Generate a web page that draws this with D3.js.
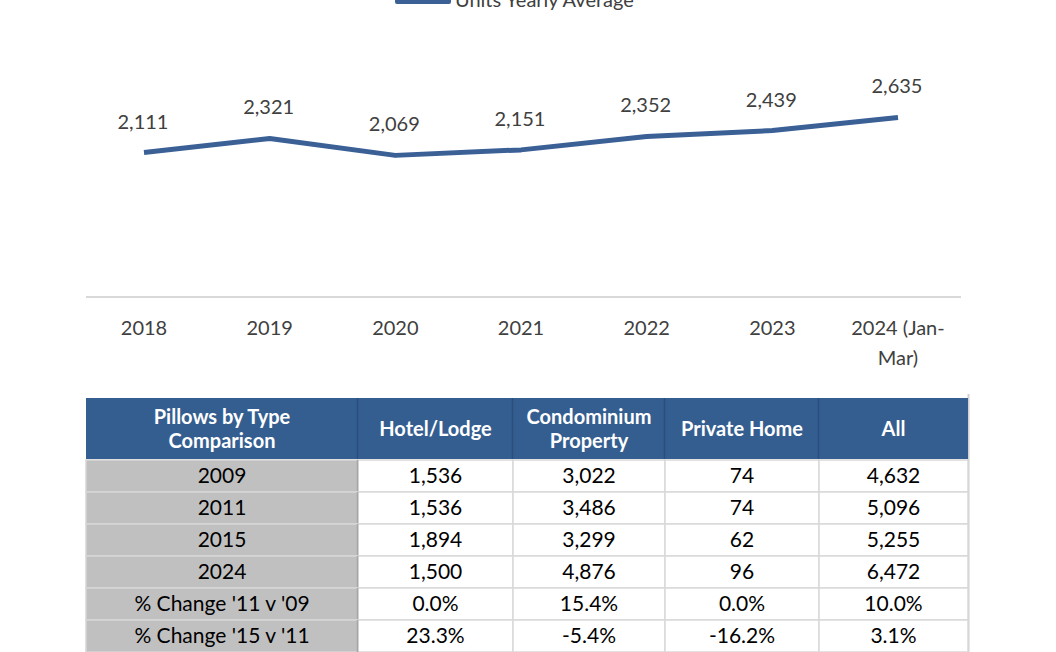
<!DOCTYPE html>
<html lang="en">
<head>
<meta charset="UTF-8">
<title>Units Yearly Average</title>
<script src="https://d3js.org/d3.v7.min.js"></script>
<style>
  body { margin: 0; background: #fff; }
  svg { font-family: Lato, "Open Sans", sans-serif; }
</style>
</head>
<body>
<svg width="1056" height="652"></svg>
<script>
// line chart data
const years = ["2018", "2019", "2020", "2021", "2022", "2023", "2024 (Jan-Mar)"];
const units = [2111, 2321, 2069, 2151, 2352, 2439, 2635];

// table data
const tableHeader = ["Pillows by Type Comparison", "Hotel/Lodge", "Condominium Property", "Private Home", "All"];
const rowLabels = ["2009", "2011", "2015", "2024", "% Change '11 v '09", "% Change '15 v '11"];
const hotelLodge = ["1,536", "1,536", "1,894", "1,500", "0.0%", "23.3%"];
const condo = ["3,022", "3,486", "3,299", "4,876", "15.4%", "-5.4%"];
const privateHome = ["74", "74", "62", "96", "0.0%", "-16.2%"];
const allTypes = ["4,632", "5,096", "5,255", "6,472", "10.0%", "3.1%"];

const svg = d3.select("svg");
const blue = "#355e90";

// ---- line chart ----
const x = d3.scalePoint().domain(years).range([144, 898]);
const y = d3.scaleLinear().domain([0, 3000]).range([294, 93]);

svg.append("line")
  .attr("x1", 86).attr("x2", 961)
  .attr("y1", y(0) + 3).attr("y2", y(0) + 3)
  .attr("stroke", "#d9d9d9").attr("stroke-width", 2);

svg.append("path")
  .datum(units)
  .attr("fill", "none")
  .attr("stroke", "#3a6096")
  .attr("stroke-width", 5)
  .attr("stroke-linejoin", "round")
  .attr("d", d3.line().x((d, i) => x(years[i])).y(d => y(d)));

svg.selectAll(".val")
  .data(units)
  .enter().append("text")
  .attr("class", "val")
  .attr("x", (d, i) => x(years[i]) - 1)
  .attr("y", d => y(d) - 24)
  .attr("text-anchor", "middle")
  .attr("font-size", 20)
  .attr("fill", "#404040")
  .text(d => d3.format(",")(d));

// x labels, wrap the last one
const xl = svg.selectAll(".xl")
  .data(years)
  .enter().append("text")
  .attr("class", "xl")
  .attr("text-anchor", "middle")
  .attr("font-size", 20)
  .attr("fill", "#404040");
xl.each(function (d) {
  const parts = d === "2024 (Jan-Mar)" ? ["2024 (Jan-", "Mar)"] : [d];
  const t = d3.select(this);
  parts.forEach((p, i) => {
    t.append("tspan")
      .attr("x", x(d))
      .attr("y", 335 + i * 30)
      .text(p);
  });
});

// legend (cut off at top, as in the source)
svg.append("rect").attr("x", 395).attr("y", -6).attr("width", 56).attr("height", 10).attr("fill", "#3a6096").attr("rx", 2);
svg.append("text").attr("x", 455).attr("y", 7).attr("font-size", 20).attr("fill", "#404040").text("Units Yearly Average");

// ---- table ----
const colEdges = [86, 358, 513, 665, 819, 968];
const headTop = 398, headBottom = 459;
const rowH = 32;
const columns = [rowLabels, hotelLodge, condo, privateHome, allTypes];

svg.append("line").attr("x1", 968.5).attr("x2", 968.5).attr("y1", 394).attr("y2", 652)
  .attr("stroke", "#d0d0d0").attr("stroke-width", 2);

svg.append("rect").attr("x", 86).attr("y", headTop)
  .attr("width", 968 - 86).attr("height", headBottom - headTop).attr("fill", blue);

const head = svg.selectAll(".hd")
  .data(tableHeader)
  .enter().append("g").attr("class", "hd");
head.append("line")
  .attr("x1", (d, i) => colEdges[i + 1] - 0.5).attr("x2", (d, i) => colEdges[i + 1] - 0.5)
  .attr("y1", headTop).attr("y2", headBottom)
  .attr("stroke", "#2b4f7c").attr("stroke-width", (d, i) => i < 4 ? 1.5 : 0);
head.each(function (d, i) {
  const words = {
    "Pillows by Type Comparison": ["Pillows by Type", "Comparison"],
    "Condominium Property": ["Condominium", "Property"]
  }[d] || [d];
  const cx = (colEdges[i] + colEdges[i + 1]) / 2;
  const t = d3.select(this).append("text")
    .attr("text-anchor", "middle").attr("font-size", 20)
    .attr("font-weight", "bold").attr("fill", "#fff");
  words.forEach((w, k) => {
    t.append("tspan").attr("x", cx)
      .attr("y", (headTop + headBottom) / 2 + 7 + (k - (words.length - 1) / 2) * 24)
      .text(w);
  });
});

rowLabels.forEach((r, ri) => {
  const top = headBottom + 1 + ri * rowH;
  columns.forEach((col, ci) => {
    const x0 = colEdges[ci], x1 = colEdges[ci + 1];
    svg.append("rect")
      .attr("x", x0).attr("y", top)
      .attr("width", x1 - x0).attr("height", rowH)
      .attr("fill", ci === 0 ? "#c0c0c0" : "#fff")
      .attr("stroke", ci === 0 ? "#d6d6d6" : "#d9d9d9")
      .attr("stroke-width", 1.5);
    svg.append("text")
      .attr("x", (x0 + x1) / 2)
      .attr("y", top + rowH / 2 + 7)
      .attr("text-anchor", "middle")
      .attr("font-size", 21)
      .attr("fill", "#000")
      .text(col[ri]);
  });
  svg.append("line").attr("x1", 357.5).attr("x2", 357.5).attr("y1", top).attr("y2", top + rowH)
    .attr("stroke", "#a6a6a6").attr("stroke-width", 1.5);
});
</script>
</body>
</html>
